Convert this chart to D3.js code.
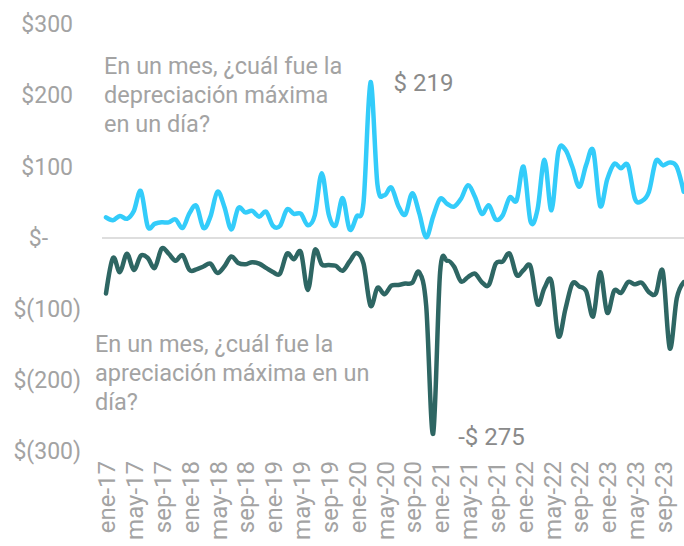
<!DOCTYPE html>
<html><head><meta charset="utf-8">
<script src="https://cdn.jsdelivr.net/npm/d3@7"></script>
<style>html,body{margin:0;padding:0;background:#fff;}svg{display:block;font-family:Roboto,"Noto Sans",sans-serif;}</style>
</head><body>
<svg id="chart" width="684" height="546"></svg>
<script>
const monthNames = ["ene","feb","mar","abr","may","jun","jul","ago","sep","oct","nov","dic"];
const years = ["17","18","19","20","21","22","23"];
const categories = [];
years.forEach(y => monthNames.forEach(m => categories.push(m + "-" + y)));

const depreciation = [29,25,31,27,38,66,16,20,22,22,26,14,35,45,14,30,65,44,12,42,36,38,30,37,17,17,40,34,34,18,32,91,33,18,56,12,30,50,219,75,60,71,45,33,63,35,1,30,55,48,44,55,74,58,34,46,26,32,57,53,100,23,40,110,39,122,124,100,72,103,123,45,82,104,98,102,55,52,65,108,102,106,100,65];
const appreciation = [-78,-28,-48,-22,-45,-25,-28,-42,-15,-22,-32,-24,-45,-44,-40,-36,-49,-40,-26,-35,-37,-34,-36,-42,-48,-50,-22,-30,-20,-73,-17,-37,-38,-39,-46,-33,-21,-36,-95,-70,-79,-67,-66,-64,-63,-48,-95,-275,-48,-32,-40,-61,-55,-50,-62,-66,-36,-33,-22,-52,-45,-40,-93,-70,-61,-138,-100,-64,-68,-75,-110,-48,-105,-74,-77,-62,-65,-63,-76,-78,-47,-155,-85,-62];

const yTickValues = [300,200,100,0,-100,-200,-300];
const yTickLabels = ["$300","$200","$100","$-","$(100)","$(200)","$(300)"];
const xTickLabels = ["ene-17","may-17","sep-17","ene-18","may-18","sep-18","ene-19","may-19","sep-19","ene-20","may-20","sep-20","ene-21","may-21","sep-21","ene-22","may-22","sep-22","ene-23","may-23","sep-23"];

const svg = d3.select("#chart");
const x = d3.scalePoint().domain(categories).range([106, 683.7]);
const y = d3.scaleLinear().domain([-300, 300]).range([451.6, 24.4]);

const textGray = "#a3a3a3";

// zero line
svg.append("line").attr("x1", 102).attr("x2", 684)
  .attr("y1", y(0)).attr("y2", y(0))
  .attr("stroke", "#dedede").attr("stroke-width", 2);

// y axis labels (accounting style alignment)
const yAxis = d3.axisLeft(y).tickValues(yTickValues)
  .tickFormat((d,i) => yTickLabels[i]).tickSize(0).tickPadding(0);
const yg = svg.append("g").attr("transform", "translate(81,0)").call(yAxis);
yg.select(".domain").remove();
yg.selectAll("text").attr("fill", textGray).attr("font-size", 23)
  .attr("font-family", "Roboto")
  .attr("dx", function(d){ const s = yTickLabels[yTickValues.indexOf(d)]; return s.includes("(") ? 0 : (s === "$-" ? -33 : -8); });

// x axis labels
const xAxis = d3.axisBottom(x).tickValues(xTickLabels).tickSize(0).tickPadding(0);
const xg = svg.append("g").attr("transform", "translate(0,461)").call(xAxis);
xg.select(".domain").remove();
xg.selectAll("text").attr("fill", textGray).attr("font-size", 24)
  .attr("font-family", "Roboto")
  .attr("text-anchor", "end")
  .attr("transform", "rotate(-90)")
  .attr("x", 0).attr("y", 0).attr("dy", "0.36em");

const line = d3.line().x((d,i) => x(categories[i])).y(d => y(d)).curve(d3.curveCardinal.tension(0));

svg.append("path").datum(appreciation).attr("d", line)
  .attr("fill", "none").attr("stroke", "#2e6663").attr("stroke-width", 4.5)
  .attr("stroke-linejoin", "round").attr("stroke-linecap", "round");
svg.append("path").datum(depreciation).attr("d", line)
  .attr("fill", "none").attr("stroke", "#33ccfa").attr("stroke-width", 4.5)
  .attr("stroke-linejoin", "round").attr("stroke-linecap", "round");

function multiline(lines, x0, y0, lh) {
  const t = svg.append("text").attr("fill", textGray).attr("font-size", 23.5).attr("font-family", "Roboto");
  lines.forEach((l, i) => t.append("tspan").attr("x", x0).attr("y", y0 + i * lh).text(l));
}
multiline(["En un mes, ¿cuál fue la", "depreciación máxima", "en un día?"], 104, 74, 29);
multiline(["En un mes, ¿cuál fue la", "apreciación máxima en un", "día?"], 95, 352, 29);

const maxI = depreciation.indexOf(d3.max(depreciation));
const minI = appreciation.indexOf(d3.min(appreciation));
svg.append("text").attr("x", x(categories[maxI]) + 23).attr("y", y(depreciation[maxI]) + 9)
  .attr("fill", "#8a8a8a").attr("font-size", 24).attr("font-family", "Roboto")
  .text("$ " + depreciation[maxI]);
svg.append("text").attr("x", x(categories[minI]) + 25).attr("y", y(appreciation[minI]) + 11)
  .attr("fill", "#8a8a8a").attr("font-size", 24).attr("font-family", "Roboto")
  .text("-$ " + Math.abs(appreciation[minI]));
</script>
</body></html>
